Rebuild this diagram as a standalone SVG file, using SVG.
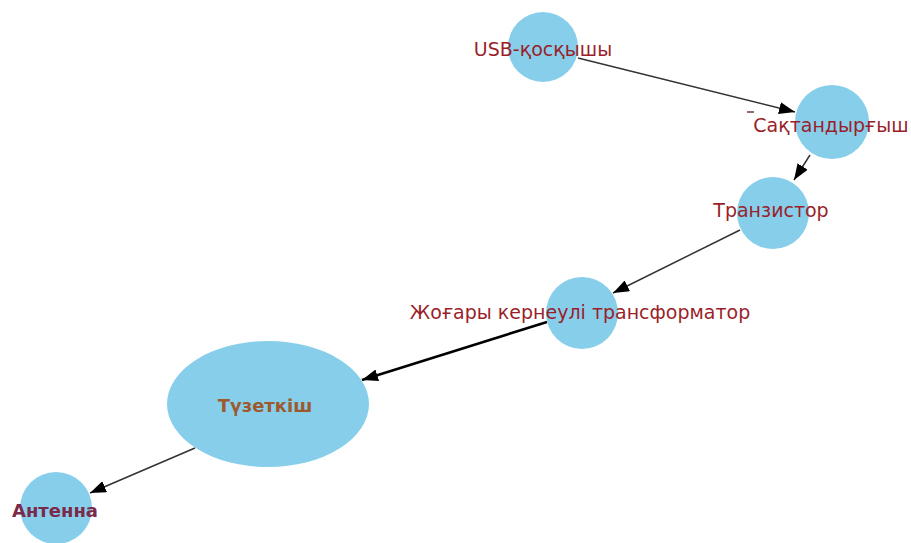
<svg xmlns="http://www.w3.org/2000/svg" width="911" height="543" viewBox="0 0 911 543">
<style>
.node{fill:#87ceeb}
.lbl{font-family:"DejaVu Sans","Noto Sans",sans-serif;font-size:19px;fill:#9a1f2a;text-anchor:middle;dominant-baseline:central}
.bold{font-weight:bold;font-size:18px}
.edge{stroke:#333;stroke-width:1.5;fill:none;marker-end:url(#ah)}
.thick{stroke:#000;stroke-width:2.6}
</style>
<defs>
<marker id="ah" markerUnits="userSpaceOnUse" markerWidth="16" markerHeight="12" viewBox="0 0 16 12" refX="16" refY="6" orient="auto">
<path d="M0,0 L16,6 L0,12 Z" fill="#000"/>
</marker>
</defs>
<rect width="911" height="543" fill="#fff"/>
<g id="edges">
<line class="edge" x1="578" y1="58" x2="795" y2="112"/>
<line class="edge" x1="810" y1="155" x2="794" y2="180"/>
<line class="edge" x1="740" y1="230" x2="613" y2="293"/>
<line class="edge thick" x1="547" y1="322" x2="362" y2="380"/>
<line class="edge" x1="195" y1="448" x2="90" y2="493"/>
</g>
<g id="usb">
<circle class="node" cx="543" cy="47" r="35"/>
<text class="lbl" x="543" y="49">USB-қосқышы</text>
</g>
<g id="saqtandyrgysh">
<circle class="node" cx="832" cy="122" r="37"/>
<line x1="747" y1="112" x2="754" y2="112" stroke="#5a1a2a" stroke-width="1.3"/>
<text class="lbl" x="831" y="125">Сақтандырғыш</text>
</g>
<g id="tranzistor">
<circle class="node" cx="773" cy="213" r="36"/>
<text class="lbl" x="771" y="210">Транзистор</text>
</g>
<g id="transformator">
<circle class="node" cx="582" cy="313" r="36"/>
<text class="lbl" x="580" y="312">Жоғары кернеулі трансформатор</text>
</g>
<g id="tuzetkish">
<ellipse class="node" cx="268" cy="404" rx="101" ry="63"/>
<text class="lbl bold" x="265" y="405" style="fill:#9c5a2e">Түзеткіш</text>
</g>
<g id="antenna">
<circle class="node" cx="56" cy="508" r="36"/>
<text class="lbl bold" x="55" y="510" style="fill:#7a2a4a">Антенна</text>
</g>
</svg>
